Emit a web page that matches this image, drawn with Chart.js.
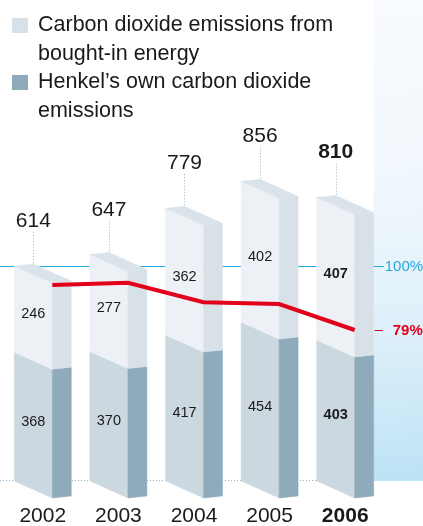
<!DOCTYPE html>
<html>
<head>
<meta charset="utf-8">
<script src="https://cdn.jsdelivr.net/npm/chart.js@4.4.0/dist/chart.umd.min.js"></script>
<style>
    body { margin: 0; background: #fff; }
    #wrap { position: relative; width: 423px; height: 526px; font-family: "Liberation Sans", Arial, Helvetica, sans-serif; color: #1a1a1a; }
    #myChart { position: absolute; left: 0; top: 0; }
    .legend { position: absolute; left: 38px; top: 10px; width: 305px; font-size: 21.5px; line-height: 28.6px; }
    .legend-item { position: relative; }
    .legend-item span { position: absolute; left: -26px; top: 7.5px; width: 16px; height: 15px; }
</style>
</head>
<body>
<div id="wrap">
    <canvas id="myChart" width="423" height="526"></canvas>
    <div class="legend legend-js"></div>
</div>
<script>
// data
const years = ['2002', '2003', '2004', '2005', '2006'];
const ownEmissions = [368, 370, 417, 454, 403];
const boughtEnergy = [246, 277, 362, 402, 407];
const trendPct = [93.8, 94.5, 88.1, 87.5, 79];
const refPct = 100;
const legendLabels = ['Carbon dioxide emissions from bought-in energy', 'Henkel’s own carbon dioxide emissions'];

const colors = {
    topFront: '#edf1f5', topSide: '#d9e1e8', cap: '#dbe3ea',
    lowFront: '#cbd8e0', lowSide: '#8eaabb',
    red: '#e2001a', cyan: '#22a8e0', dots: '#93b3c8', text: '#1a1a1a'
};
const BAR_PCT = 0.754;
const DEPTH = 1 / 3;   // share of bar width used by the side face
const SLANT = 17;
const LIFT = -2;
const FONT = '"Liberation Sans", Arial, Helvetica, sans-serif';

// legend
let elLegend = document.querySelector('.legend-js');
[colors.topSide, colors.lowSide].forEach((c, i) => {
    let item = document.createElement('div');
    item.className = 'legend-item';
    item.innerHTML = `<span style="background:${c}"></span>${legendLabels[i]}`;
    elLegend.appendChild(item);
});

const poly = (ctx, pts, fill) => {
    ctx.beginPath();
    pts.forEach((p, i) => i ? ctx.lineTo(p[0], p[1]) : ctx.moveTo(p[0], p[1]));
    ctx.closePath();
    ctx.fillStyle = fill;
    ctx.fill();
    ctx.strokeStyle = fill;
    ctx.lineWidth = 0.5;
    ctx.stroke();
};

const geom = (el) => {
    const w = el.width, d = w * DEPTH;
    const xL = el.x - w / 2, xR = xL + w - d;
    return { d, xL, xR, yT: el.y, yB: el.base };
};

const drawSeg = (ctx, el, front, side) => {
    const g = geom(el);
    poly(ctx, [[g.xL, g.yT], [g.xR, g.yT + SLANT], [g.xR, g.yB + SLANT], [g.xL, g.yB]], front);
    poly(ctx, [[g.xR, g.yT + SLANT], [g.xR + g.d, g.yT + SLANT + LIFT], [g.xR + g.d, g.yB + SLANT + LIFT], [g.xR, g.yB + SLANT]], side);
};

const panelX = (chart) => {
    const meta = chart.getDatasetMeta(1);
    const el = meta.data[meta.data.length - 1];
    return el.x + el.width / 2;
};

const bars3d = {
    id: 'bars3d',
    beforeDatasetsDraw(chart) {
        const { ctx, chartArea, scales } = chart;
        const px = panelX(chart);
        ctx.save();
        // right panel
        let grad = ctx.createLinearGradient(px, 0, chart.width, chartArea.bottom);
        grad.addColorStop(0, '#f9fbfe');
        grad.addColorStop(0.4, '#f0f7fc');
        grad.addColorStop(0.7, '#ddeffa');
        grad.addColorStop(1, '#bce2f5');
        ctx.fillStyle = grad;
        ctx.fillRect(px, 0, chart.width - px, chartArea.bottom);

        // 100% reference line
        const yRef = Math.round(scales.y2.getPixelForValue(refPct)) + 0.5;
        ctx.strokeStyle = colors.cyan;
        ctx.lineWidth = 1;
        ctx.beginPath();
        ctx.moveTo(0, yRef);
        ctx.lineTo(px + 10, yRef);
        ctx.stroke();

        // dotted base line
        ctx.strokeStyle = colors.dots;
        ctx.setLineDash([1, 2]);
        ctx.beginPath();
        ctx.moveTo(0, chartArea.bottom - 0.5);
        ctx.lineTo(px, chartArea.bottom - 0.5);
        ctx.stroke();
        ctx.setLineDash([]);

        const low = chart.getDatasetMeta(0).data;
        const high = chart.getDatasetMeta(1).data;
        high.forEach((el, i) => {
            drawSeg(ctx, low[i], colors.lowFront, colors.lowSide);
            drawSeg(ctx, el, colors.topFront, colors.topSide);
            const g = geom(el);
            poly(ctx, [[g.xL, g.yT], [g.xL + g.d, g.yT + LIFT], [g.xR + g.d, g.yT + SLANT + LIFT], [g.xR, g.yT + SLANT]], colors.cap);
        });
        ctx.restore();
    },
    afterDatasetsDraw(chart) {
        const { ctx, scales } = chart;
        const px = panelX(chart);
        const low = chart.getDatasetMeta(0).data;
        const high = chart.getDatasetMeta(1).data;
        const last = years.length - 1;
        ctx.save();
        ctx.textAlign = 'center';
        high.forEach((el, i) => {
            const weight = i === last ? 'bold ' : '';
            ctx.fillStyle = colors.text;
            ctx.textBaseline = 'middle';
            ctx.font = weight + '14.5px ' + FONT;
            [[low[i], ownEmissions[i]], [el, boughtEnergy[i]]].forEach(([e, v]) => {
                const g = geom(e);
                ctx.fillText(v, g.xL + (g.xR - g.xL) / 2, (g.yT + g.yB) / 2 + 5);
            });

            const g = geom(el);
            const peakX = g.xL + g.d, peakY = g.yT + LIFT;
            ctx.textBaseline = 'alphabetic';
            ctx.font = weight + '21px ' + FONT;
            ctx.fillText(ownEmissions[i] + boughtEnergy[i], peakX, peakY - 37);

            ctx.strokeStyle = colors.dots;
            ctx.lineWidth = 1;
            ctx.setLineDash([1, 2]);
            ctx.beginPath();
            ctx.moveTo(Math.round(peakX) + 0.5, peakY - 32);
            ctx.lineTo(Math.round(peakX) + 0.5, peakY);
            ctx.stroke();
            ctx.setLineDash([]);
        });

        // right side percent labels
        ctx.textAlign = 'left';
        ctx.textBaseline = 'middle';
        ctx.fillStyle = colors.cyan;
        ctx.font = '15px ' + FONT;
        ctx.fillText(refPct + '%', px + 11, scales.y2.getPixelForValue(refPct) + 0.5);

        const yEnd = Math.round(scales.y2.getPixelForValue(trendPct[last])) + 0.5;
        ctx.strokeStyle = colors.red;
        ctx.lineWidth = 1;
        ctx.beginPath();
        ctx.moveTo(px + 1, yEnd);
        ctx.lineTo(px + 9, yEnd);
        ctx.stroke();
        ctx.fillStyle = colors.red;
        ctx.font = 'bold 15px ' + FONT;
        ctx.fillText(trendPct[last] + '%', px + 19, yEnd);
        ctx.restore();
    }
};

const data = {
    labels: years,
    datasets: [
        {
            label: legendLabels[1],
            data: ownEmissions,
            backgroundColor: 'rgba(0,0,0,0)',
            xAxisID: 'x', yAxisID: 'y',
            stack: 'co2', grouped: false,
            barPercentage: BAR_PCT, categoryPercentage: 1
        },
        {
            label: legendLabels[0],
            data: boughtEnergy,
            backgroundColor: 'rgba(0,0,0,0)',
            xAxisID: 'x', yAxisID: 'y',
            stack: 'co2', grouped: false,
            barPercentage: BAR_PCT, categoryPercentage: 1
        },
        {
            type: 'line',
            label: 'index',
            data: trendPct.map((v, i) => ({ x: i + BAR_PCT / 6, y: v })),
            xAxisID: 'x2', yAxisID: 'y2',
            borderColor: colors.red,
            borderWidth: 4,
            pointRadius: 0,
            fill: false,
            tension: 0
        }
    ]
};

const config = {
    type: 'bar',
    data: data,
    plugins: [bars3d],
    options: {
        responsive: false,
        animation: false,
        devicePixelRatio: 1,
        layout: { padding: { left: 5, right: 40, top: 0, bottom: 0 } },
        plugins: { legend: { display: false }, tooltip: { enabled: false } },
        scales: {
            x: {
                stacked: true,
                grid: { display: false, drawTicks: false },
                border: { display: false },
                ticks: {
                    padding: 23,
                    color: colors.text,
                    font: (c) => ({ family: FONT, size: 21, weight: c.index === years.length - 1 ? 'bold' : 'normal' })
                },
                afterFit: (s) => {
                    s.height = 45;
                    s.paddingLeft = 0;
                    s.paddingRight = 0;
                }
            },
            x2: { type: 'linear', display: false, offset: false, grid: { offset: false }, min: -0.5, max: 4.5 },
            y: { stacked: true, display: false, min: 0, max: 1374 },
            y2: { display: false, min: 29.45, max: 187.28 }
        }
    }
};

let myChart = new Chart(document.getElementById('myChart'), config);
</script>
</body>
</html>
